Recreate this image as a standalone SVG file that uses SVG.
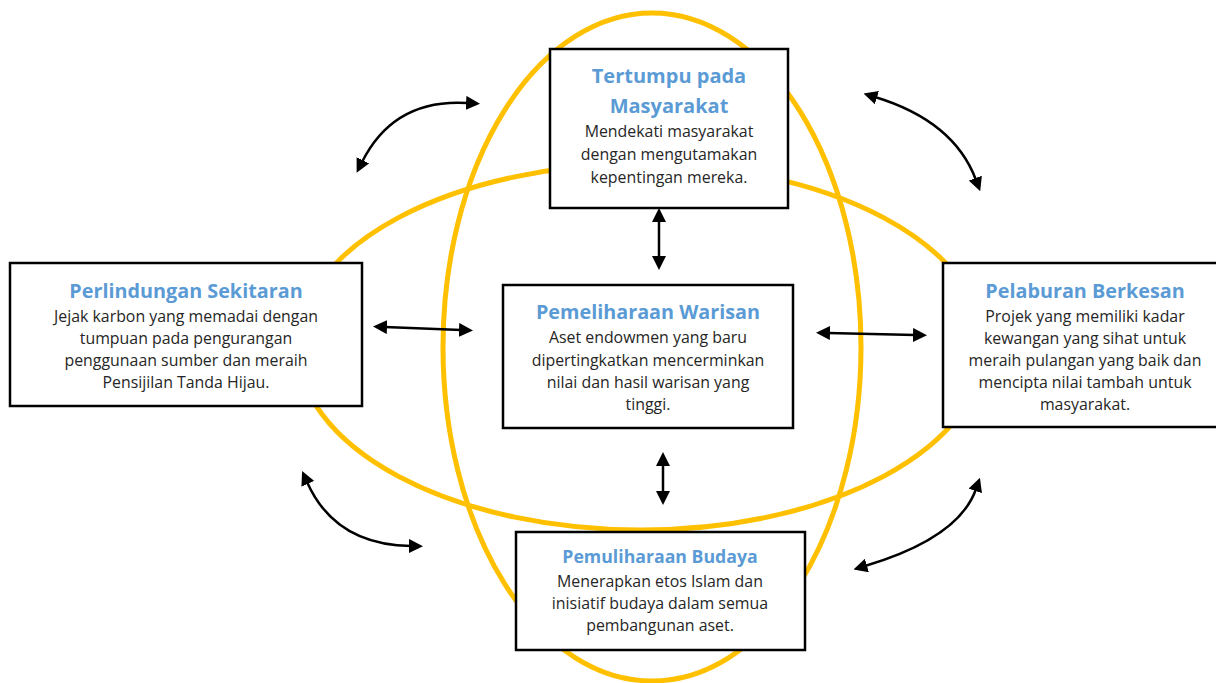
<svg xmlns="http://www.w3.org/2000/svg" width="1216" height="683" viewBox="0 0 1216 683">
<style>
.ring{fill:none;stroke:#FFC000;stroke-width:5}
.box{fill:#fff;stroke:#000;stroke-width:2.5}
.t{font-family:"Open Sans","Liberation Sans",sans-serif;font-weight:bold;fill:#5B9BD5;text-anchor:middle;font-size:19.8px}
.b{font-family:"Open Sans","Liberation Sans",sans-serif;fill:#262626;text-anchor:middle;font-size:15.9px}
.c{fill:none;stroke:#000;stroke-width:2.5;marker-start:url(#ah);marker-end:url(#ah)}
</style>
<defs>
<marker id="ah" viewBox="0 0 14 14" refX="2" refY="7" markerWidth="14" markerHeight="14" markerUnits="userSpaceOnUse" orient="auto-start-reverse">
<path d="M0,0 L14,7 L0,14 Z" fill="#000"/>
</marker>
</defs>
<g id="rings">
<ellipse class="ring" cx="652" cy="347" rx="209" ry="334"/>
<ellipse class="ring" cx="641" cy="347" rx="343" ry="183"/>
</g>
<g id="connectors">
<path class="c" d="M362 162 Q394 98 468 103"/>
<path class="c" d="M875 97 Q954 121 976 180"/>
<path class="c" d="M307 482 Q335 545 411 546"/>
<path class="c" d="M865 566 Q959 538 976 489"/>
<path class="c" d="M385 327 L461 330"/>
<path class="c" d="M828 333 L915 335"/>
<path class="c" d="M659 220 L659 258"/>
<path class="c" d="M663 464 L663 493"/>
</g>
<g id="node-top">
<rect class="box" x="550" y="49" width="238" height="159"/>
<text class="t" x="669" y="83" style="font-size:20px">Tertumpu pada</text>
<text class="t" x="669" y="113" style="font-size:20px">Masyarakat</text>
<text class="b" x="669" y="137">Mendekati masyarakat</text>
<text class="b" x="669" y="160">dengan mengutamakan</text>
<text class="b" x="669" y="183">kepentingan mereka.</text>
</g>
<g id="node-left">
<rect class="box" x="10" y="263" width="352" height="143"/>
<text class="t" x="186" y="298">Perlindungan Sekitaran</text>
<text class="b" x="186" y="322">Jejak karbon yang memadai dengan</text>
<text class="b" x="186" y="344">tumpuan pada pengurangan</text>
<text class="b" x="186" y="366">penggunaan sumber dan meraih</text>
<text class="b" x="186" y="388">Pensijilan Tanda Hijau.</text>
</g>
<g id="node-right">
<rect class="box" x="943" y="263" width="285" height="164"/>
<text class="t" x="1085" y="298">Pelaburan Berkesan</text>
<text class="b" x="1085" y="322">Projek yang memiliki kadar</text>
<text class="b" x="1085" y="344">kewangan yang sihat untuk</text>
<text class="b" x="1085" y="366">meraih pulangan yang baik dan</text>
<text class="b" x="1085" y="388">mencipta nilai tambah untuk</text>
<text class="b" x="1085" y="410">masyarakat.</text>
</g>
<g id="node-center">
<rect class="box" x="503" y="285" width="290" height="143"/>
<text class="t" x="648" y="319">Pemeliharaan Warisan</text>
<text class="b" x="648" y="343">Aset endowmen yang baru</text>
<text class="b" x="648" y="366">dipertingkatkan mencerminkan</text>
<text class="b" x="648" y="388">nilai dan hasil warisan yang</text>
<text class="b" x="648" y="410">tinggi.</text>
</g>
<g id="node-bottom">
<rect class="box" x="516" y="532" width="289" height="118"/>
<text class="t" x="660" y="563" style="font-size:17.7px">Pemuliharaan Budaya</text>
<text class="b" x="660" y="587">Menerapkan etos Islam dan</text>
<text class="b" x="660" y="609">inisiatif budaya dalam semua</text>
<text class="b" x="660" y="631">pembangunan aset.</text>
</g>
</svg>
